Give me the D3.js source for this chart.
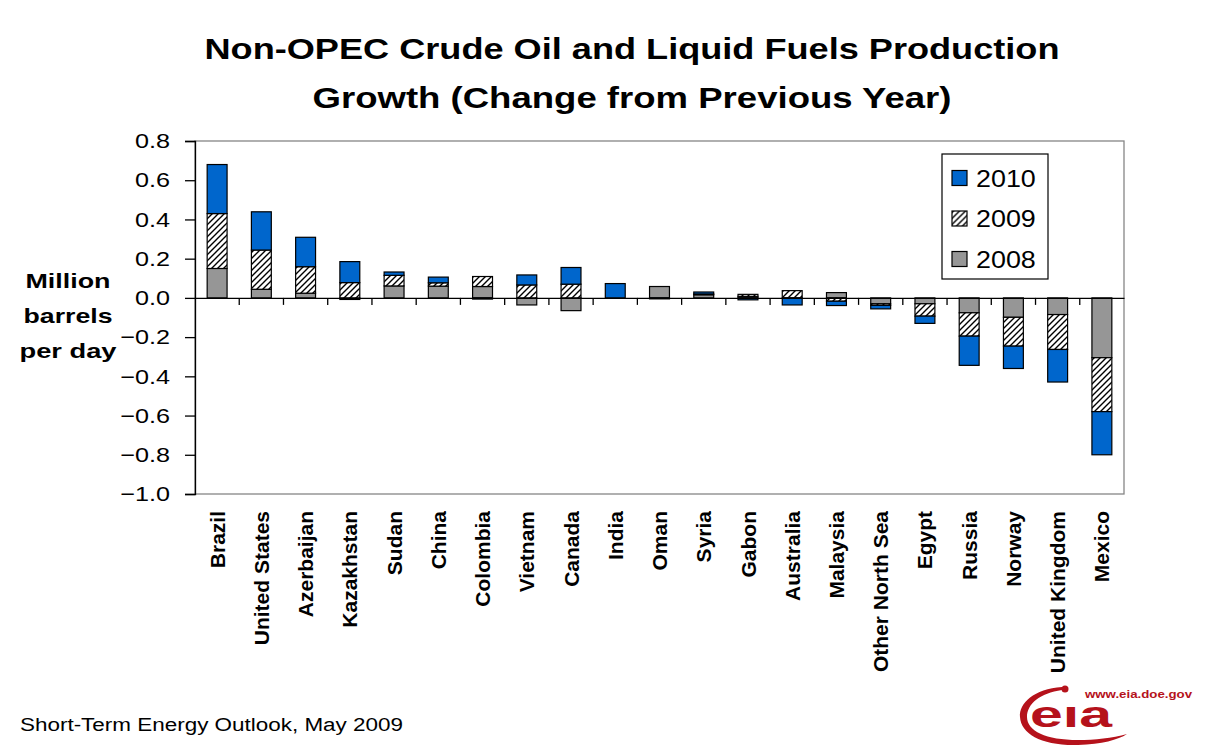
<!DOCTYPE html>
<html>
<head>
<meta charset="utf-8">
<script src="https://cdn.jsdelivr.net/npm/d3@7"></script>
<style>
  body { margin: 0; background: #fff; }
  svg { display: block; font-family: "Liberation Sans", Arial, sans-serif; }
</style>
</head>
<body>
<div class="card"></div>
<script>
// chart values, million barrels per day
var countries = ["Brazil", "United States", "Azerbaijan", "Kazakhstan", "Sudan", "China", "Colombia",
  "Vietnam", "Canada", "India", "Oman", "Syria", "Gabon", "Australia", "Malaysia", "Other North Sea",
  "Egypt", "Russia", "Norway", "United Kingdom", "Mexico"];
var v2008 = [0.15, 0.044, 0.024, -0.008, 0.061, 0.06, 0.058, -0.036, -0.065, 0, 0.058, 0.016, 0.008,
  0, 0.027, -0.03, -0.03, -0.076, -0.099, -0.085, -0.305];
var v2009 = [0.28, 0.20, 0.135, 0.078, 0.054, 0.017, 0.051, 0.066, 0.07, 0, 0, 0.004, 0.01,
  0.037, -0.017, -0.008, -0.063, -0.119, -0.147, -0.178, -0.275];
var v2010 = [0.25, 0.195, 0.15, 0.107, 0.017, 0.029, -0.006, 0.051, 0.085, 0.073, -0.005, 0.01, -0.01,
  -0.036, -0.022, -0.018, -0.037, -0.149, -0.114, -0.166, -0.22];
var seriesKeys = ["2008", "2009", "2010"];
var legendOrder = ["2010", "2009", "2008"];
var yTicks = [0.8, 0.6, 0.4, 0.2, 0, -0.2, -0.4, -0.6, -0.8, -1.0];

var width = 1214, height = 749;
var plot = { left: 195, right: 1124, top: 141, bottom: 494 };

var svg = d3.select('.card').append('svg')
  .attr('width', width)
  .attr('height', height);

// hatch for 2009
var defs = svg.append('defs');
defs.append('pattern')
  .attr('id', 'hatch')
  .attr('patternUnits', 'userSpaceOnUse')
  .attr('width', 6).attr('height', 6)
  .call(p => {
    p.append('rect').attr('width', 6).attr('height', 6).attr('fill', '#fff');
    p.append('path')
      .attr('d', 'M-1,7 L7,-1 M-2,2 L2,-2 M4,8 L8,4')
      .attr('stroke', '#000').attr('stroke-width', 1.4);
  });

var fills = { "2010": "#0066cc", "2009": "url(#hatch)", "2008": "#969696" };

var table = countries.map((c, i) => ({ country: c, "2008": v2008[i], "2009": v2009[i], "2010": v2010[i] }));
var stacked = d3.stack().keys(seriesKeys).offset(d3.stackOffsetDiverging)(table);

var x = d3.scaleBand()
  .domain(countries)
  .range([plot.left, plot.right])
  .paddingInner(0.55)
  .paddingOuter(0.275);

var y = d3.scaleLinear().domain([-1.0, 0.8]).range([plot.bottom, plot.top]);

// plot area frame
svg.append('rect')
  .attr('x', plot.left).attr('y', plot.top)
  .attr('width', plot.right - plot.left).attr('height', plot.bottom - plot.top)
  .attr('fill', 'none').attr('stroke', '#868686').attr('stroke-width', 1.3);

// bars
svg.append('g').selectAll('g')
  .data(stacked)
  .join('g')
  .attr('fill', d => fills[d.key])
  .selectAll('rect')
  .data(d => d)
  .join('rect')
  .attr('x', d => x(d.data.country))
  .attr('y', d => y(d[1]))
  .attr('width', x.bandwidth())
  .attr('height', d => y(d[0]) - y(d[1]))
  .attr('stroke', '#000')
  .attr('stroke-width', 1.2);

// zero line with category ticks between bars
var step = x.step();
var xAxis = d3.axisBottom(x).tickSize(0).tickFormat('');
svg.append('g')
  .attr('transform', `translate(0,${y(0)})`)
  .call(xAxis)
  .call(g => g.select('.domain').attr('stroke', '#000').attr('stroke-width', 1.3))
  .call(g => g.selectAll('.sep')
    .data(countries.slice(1))
    .join('line')
    .attr('class', 'sep')
    .attr('x1', d => x(d) - (step - x.bandwidth()) / 2)
    .attr('x2', d => x(d) - (step - x.bandwidth()) / 2)
    .attr('y1', 0).attr('y2', 7)
    .attr('stroke', '#000').attr('stroke-width', 1.3));

// category labels
svg.append('g').selectAll('text')
  .data(countries)
  .join('text')
  .attr('transform', d => `translate(${x(d) + x.bandwidth() / 2},511) rotate(-90)`)
  .attr('dy', '0.36em')
  .attr('text-anchor', 'end')
  .attr('font-size', 21)
  .attr('font-weight', 'bold')
  .text(d => d);

// y axis
var yAxis = d3.axisLeft(y).tickValues(yTicks).tickSize(10).tickFormat(d3.format('.1f'));
svg.append('g')
  .attr('transform', `translate(${plot.left},0)`)
  .call(yAxis)
  .call(g => g.select('.domain').attr('stroke', '#000').attr('stroke-width', 1.3))
  .call(g => g.selectAll('.tick line').attr('stroke', '#000').attr('stroke-width', 1.3))
  .call(g => g.selectAll('.tick text')
    .attr('x', null)
    .attr('transform', 'translate(-25,0) scale(1.2,1)')
    .attr('font-size', 21)
    .attr('font-family', '"Liberation Sans", Arial, sans-serif')
    .attr('fill', '#000'));

// y label
var yLabel = ["Million", "barrels", "per day"];
var yLabelW = [85, 89, 97];
svg.append('g').selectAll('text')
  .data(yLabel)
  .join('text')
  .attr('x', 68)
  .attr('y', (d, i) => 288 + i * 35)
  .attr('text-anchor', 'middle')
  .attr('font-size', 21)
  .attr('font-weight', 'bold')
  .attr('textLength', (d, i) => yLabelW[i])
  .attr('lengthAdjust', 'spacingAndGlyphs')
  .text(d => d);

// title
var titleLines = ["Non-OPEC Crude Oil and Liquid Fuels Production", "Growth (Change from Previous Year)"];
var titleW = [855, 639];
svg.append('g').selectAll('text')
  .data(titleLines)
  .join('text')
  .attr('x', 632)
  .attr('y', (d, i) => 59 + i * 49)
  .attr('text-anchor', 'middle')
  .attr('font-size', 29)
  .attr('font-weight', 'bold')
  .attr('textLength', (d, i) => titleW[i])
  .attr('lengthAdjust', 'spacingAndGlyphs')
  .text(d => d);

// legend
var legend = svg.append('g');
legend.append('rect')
  .attr('x', 942).attr('y', 154).attr('width', 106).attr('height', 125)
  .attr('fill', '#fff').attr('stroke', '#000').attr('stroke-width', 1.2);
var item = legend.selectAll('.item')
  .data(legendOrder)
  .join('g')
  .attr('class', 'item')
  .attr('transform', (d, i) => `translate(952,${178 + i * 40.5})`);
item.append('rect')
  .attr('x', 0).attr('y', -7.5).attr('width', 15).attr('height', 15)
  .attr('fill', d => fills[d]).attr('stroke', '#000').attr('stroke-width', 1.2);
item.append('text')
  .attr('transform', 'translate(24,0) scale(1.12,1)')
  .attr('dy', '0.36em')
  .attr('font-size', 24)
  .text(d => d);

// source note
svg.append('text')
  .attr('x', 20).attr('y', 731)
  .attr('font-size', 18)
  .attr('textLength', 383)
  .attr('lengthAdjust', 'spacingAndGlyphs')
  .text('Short-Term Energy Outlook, May 2009');

// eia logo
var red = '#b5121b';
var logo = svg.append('g').attr('fill', red);
logo.append('path')
  .attr('d', 'M1062,687 C1034,689 1019,703 1020,717 C1021,734 1042,746 1078,745 C1102,744 1118,740 1127,734 ' +
    'C1112,738 1095,740 1078,740 C1046,740 1027,731 1027,717 C1027,704 1040,693 1062,690 Z');
logo.append('circle').attr('cx', 1065).attr('cy', 689).attr('r', 3.5);
logo.append('text')
  .attr('x', 1030).attr('y', 727)
  .attr('font-size', 36)
  .attr('font-weight', 'bold')
  .attr('textLength', 82)
  .attr('lengthAdjust', 'spacingAndGlyphs')
  .text('eıa');
logo.append('text')
  .attr('x', 1085).attr('y', 698)
  .attr('font-size', 11.5)
  .attr('font-weight', 'bold')
  .attr('textLength', 107)
  .attr('lengthAdjust', 'spacingAndGlyphs')
  .text('www.eia.doe.gov');
</script>
</body>
</html>
